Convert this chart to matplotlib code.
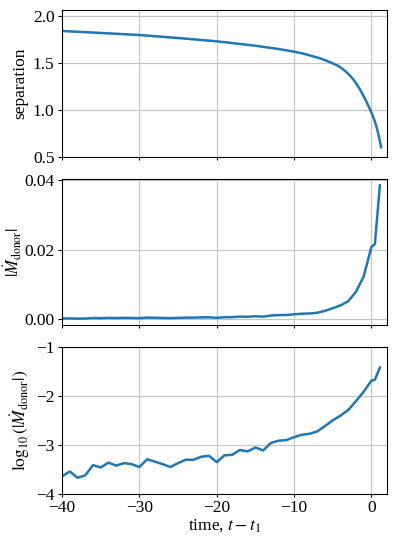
import numpy as np
import matplotlib
matplotlib.use('Agg')
import matplotlib.pyplot as plt

plt.rcParams['font.family'] = ['Liberation Serif', 'DejaVu Serif']
plt.rcParams['mathtext.fontset'] = 'stix'
plt.rcParams['font.size'] = 12.5
plt.rcParams['xtick.major.size'] = 2.5
plt.rcParams['ytick.major.size'] = 3
plt.rcParams['xtick.major.pad'] = 2
plt.rcParams['ytick.major.pad'] = 2.5

# separation vs time
t_sep = [-40, -35, -30, -25, -20, -15, -12, -10, -9, -8, -6.7, -6, -5, -4.5, -4, -3.3,
         -2.8, -2.4, -2, -1.55, -1.2, -0.7, -0.3, 0, 0.2, 0.4, 0.6, 0.8, 1.0, 1.25]
sep = [1.837, 1.816, 1.794, 1.762, 1.727, 1.680, 1.645, 1.617, 1.60, 1.578, 1.547, 1.527,
       1.493, 1.474, 1.450, 1.405, 1.365, 1.327, 1.283, 1.225, 1.174, 1.095, 1.025, 0.972,
       0.93, 0.885, 0.835, 0.775, 0.705, 0.60]

# donor mass-loss rate
t_mdot = list(range(-40, 0)) + [0, 0.45, 1.1]
mdot = [0.000229, 0.000288, 0.000214, 0.000240, 0.000389, 0.000347, 0.000437, 0.000380,
        0.000427, 0.000407, 0.000355, 0.000513, 0.000457, 0.000407, 0.000355, 0.000427,
        0.000501, 0.000501, 0.000575, 0.000603, 0.000447, 0.000617, 0.000631, 0.000794,
        0.000741, 0.000891, 0.000776, 0.00110, 0.00123, 0.00126, 0.00145, 0.00162,
        0.00170, 0.00190, 0.00245, 0.0032, 0.0040, 0.0052, 0.0079, 0.0123,
        0.0208, 0.0216, 0.0385]

fig, axs = plt.subplots(3, 1, sharex=True, figsize=(3.98, 5.41), dpi=100)
fig.subplots_adjust(left=0.156, right=0.972, top=0.9815, bottom=0.087, hspace=0.15)

axs[0].plot(t_sep, sep, color='tab:blue', lw=1.8)
axs[0].set_ylabel('separation', labelpad=3)
axs[0].set_ylim(0.5, 2.06)
axs[0].set_yticks([0.5, 1.0, 1.5, 2.0])

axs[1].plot(t_mdot, mdot, color='tab:blue', lw=1.8)
axs[1].set_ylabel(r'$|\dot{M}_{\rm donor}|$', fontsize=12)
axs[1].yaxis.set_label_coords(-0.118, 0.5)
axs[1].set_yticks([0.0, 0.02, 0.04])
axs[1].set_yticklabels(['0.00', '0.02', '0.04'])

axs[2].plot(t_mdot, np.log10(mdot), color='tab:blue', lw=1.8)
axs[2].set_ylabel(r'$\log_{10}(|\dot{M}_{\rm donor}|)$', labelpad=3)
axs[2].set_ylim(-4, -1)
axs[2].set_yticks([-4, -3, -2, -1])
axs[2].set_xlim(-40, 2)
axs[2].set_xticks([-40, -30, -20, -10, 0])
axs[2].set_xlabel(r'time, $t - t_1$', labelpad=1)

for ax in axs:
    ax.grid(True, color='#c4c4c4')

fig.savefig('out.png', dpi=100)
